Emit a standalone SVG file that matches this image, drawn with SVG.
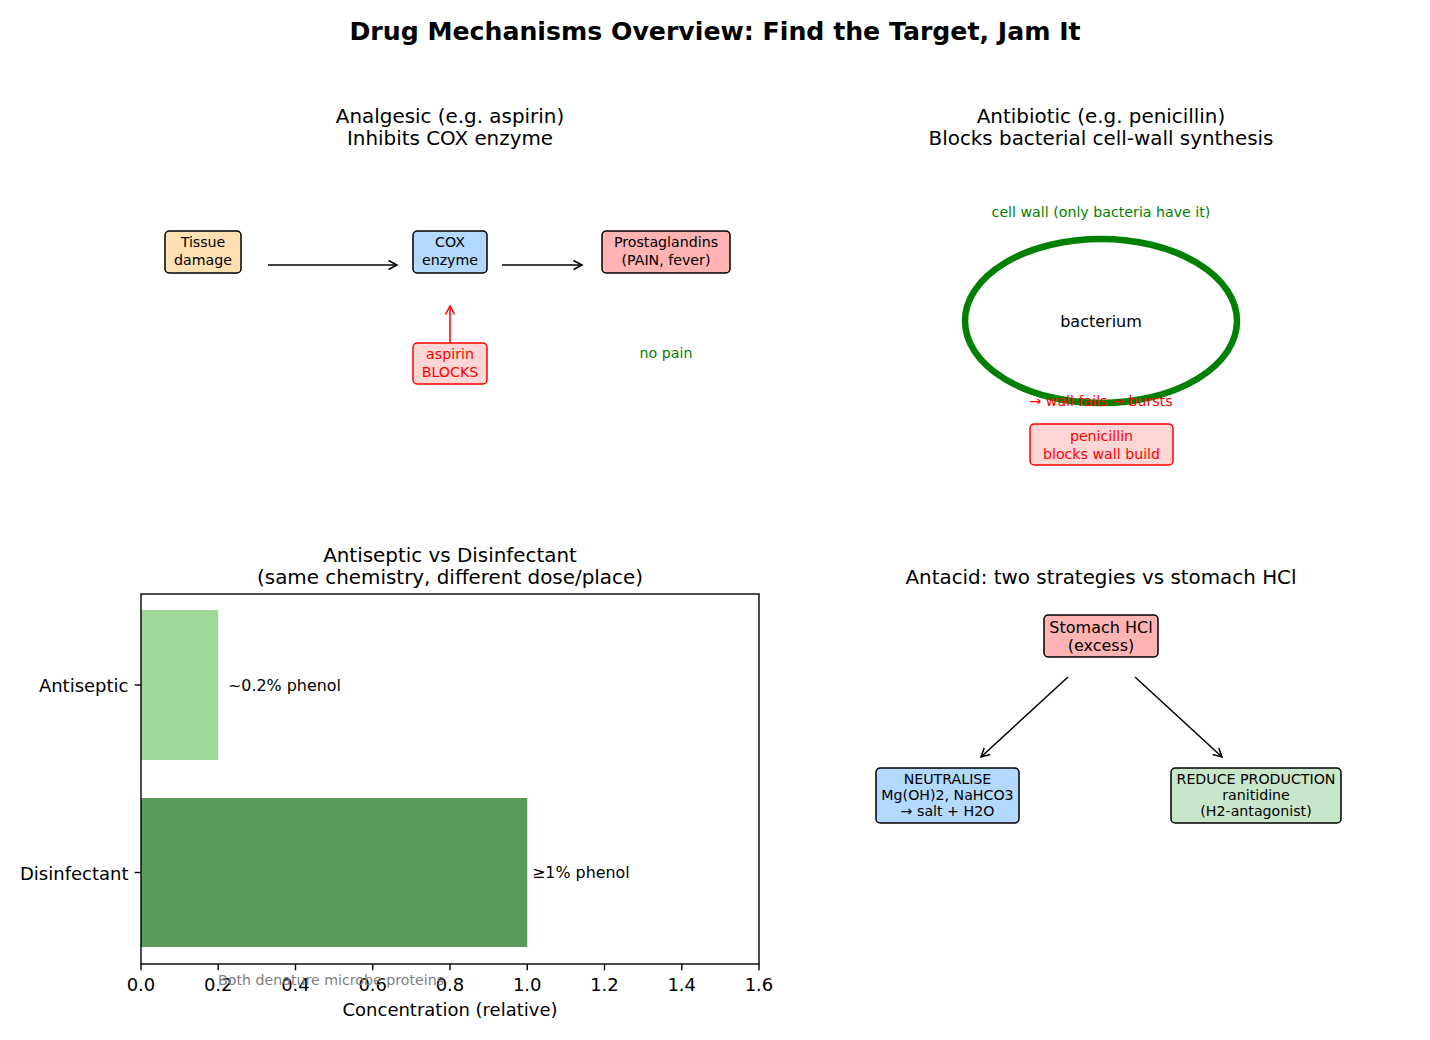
<svg xmlns="http://www.w3.org/2000/svg" width="1430" height="1040" viewBox="0 0 1430 1040">
<style>
text{font-family:"DejaVu Sans","Liberation Sans",sans-serif;fill:#000}
.title{font-size:25.2px;font-weight:bold}
.sub{font-size:19.9px}
.box{stroke:#000;stroke-width:1.5}
.bt{font-size:14.2px}
.st{font-size:14.2px}
.red{fill:#ff0000}
.green{fill:#008000}
.tick{font-size:18px}
.conn{stroke:#000;stroke-width:1.5;fill:none}
</style>
<defs>
<marker id="ah" markerUnits="userSpaceOnUse" markerWidth="14" markerHeight="14" viewBox="-11 -7 14 14" refX="0" refY="0" orient="auto">
<path d="M-8.5,-4.5 L0,0 L-8.5,4.5" fill="none" stroke="#000" stroke-width="1.5"/>
</marker>
<marker id="ahr" markerUnits="userSpaceOnUse" markerWidth="14" markerHeight="14" viewBox="-11 -7 14 14" refX="0" refY="0" orient="auto">
<path d="M-8.5,-4.5 L0,0 L-8.5,4.5" fill="none" stroke="#ff0000" stroke-width="1.5"/>
</marker>
</defs>
<rect width="1430" height="1040" fill="#fff"/>
<text class="title" x="715" y="40" text-anchor="middle">Drug Mechanisms Overview: Find the Target, Jam It</text>

<!-- Panel titles -->
<g id="titles" text-anchor="middle">
<text class="sub" x="450" y="123">Analgesic (e.g. aspirin)</text>
<text class="sub" x="450" y="145">Inhibits COX enzyme</text>
<text class="sub" x="1101" y="123">Antibiotic (e.g. penicillin)</text>
<text class="sub" x="1101" y="145">Blocks bacterial cell-wall synthesis</text>
<text class="sub" x="450" y="562">Antiseptic vs Disinfectant</text>
<text class="sub" x="450" y="584">(same chemistry, different dose/place)</text>
<text class="sub" x="1101" y="584">Antacid: two strategies vs stomach HCl</text>
</g>

<!-- Connectors -->
<g id="connectors">
<line class="conn" x1="268" y1="265" x2="397" y2="265" marker-end="url(#ah)"/>
<line class="conn" x1="502" y1="265" x2="582" y2="265" marker-end="url(#ah)"/>
<line x1="450" y1="343" x2="450" y2="306" stroke="#ff0000" stroke-width="1.5" marker-end="url(#ahr)"/>
<line class="conn" x1="1068" y1="677" x2="981" y2="757" marker-end="url(#ah)"/>
<line class="conn" x1="1135" y1="677" x2="1222" y2="757" marker-end="url(#ah)"/>
</g>

<!-- Analgesic nodes -->
<g id="tissue">
<rect class="box" x="165" y="231" width="76" height="42" rx="4.3" fill="#ffe0b2"/>
<text class="bt" x="203" y="247" text-anchor="middle">Tissue</text>
<text class="bt" x="203" y="265" text-anchor="middle">damage</text>
</g>
<g id="cox">
<rect class="box" x="413" y="231" width="74" height="42" rx="4.3" fill="#b3d9ff"/>
<text class="bt" x="450" y="247" text-anchor="middle">COX</text>
<text class="bt" x="450" y="265" text-anchor="middle">enzyme</text>
</g>
<g id="prostaglandins">
<rect class="box" x="602" y="231" width="128" height="42" rx="4.3" fill="#ffb3b3"/>
<text class="bt" x="666" y="247" text-anchor="middle">Prostaglandins</text>
<text class="bt" x="666" y="265" text-anchor="middle">(PAIN, fever)</text>
</g>
<g id="aspirin">
<rect x="413" y="343" width="74" height="41" rx="4.3" fill="#ffd6d6" stroke="#ff0000" stroke-width="1.5"/>
<text class="bt red" x="450" y="359" text-anchor="middle">aspirin</text>
<text class="bt red" x="450" y="377" text-anchor="middle">BLOCKS</text>
</g>
<g id="nopain">
<text class="bt green" x="666" y="358" text-anchor="middle">no pain</text>
</g>

<!-- Antibiotic -->
<g id="bacterium">
<text class="bt green" x="1101" y="217" text-anchor="middle">cell wall (only bacteria have it)</text>
<ellipse cx="1101" cy="321" rx="136" ry="82" fill="none" stroke="#008000" stroke-width="6.5"/>
<text x="1101" y="327" text-anchor="middle" font-size="16px">bacterium</text>
<text class="bt red" x="1101" y="406" text-anchor="middle">→ wall fails → bursts</text>
</g>
<g id="penicillin">
<rect x="1030" y="424" width="143" height="41" rx="4.3" fill="#ffd6d6" stroke="#ff0000" stroke-width="1.5"/>
<text class="bt red" x="1101.5" y="441" text-anchor="middle">penicillin</text>
<text class="bt red" x="1101.5" y="459" text-anchor="middle">blocks wall build</text>
</g>

<!-- Bar chart -->
<g id="barchart">
<rect x="141" y="610" width="77.25" height="150" fill="#a1d99b"/>
<rect x="141" y="798" width="386.25" height="149" fill="#5a9b5a"/>
<rect x="141" y="594" width="618" height="370" fill="none" stroke="#000" stroke-width="1.4"/>
<g stroke="#000" stroke-width="1.4">
<line x1="134.7" y1="685" x2="141" y2="685"/>
<line x1="134.7" y1="872.5" x2="141" y2="872.5"/>
<line x1="141" y1="964" x2="141" y2="970.3"/>
<line x1="218.25" y1="964" x2="218.25" y2="970.3"/>
<line x1="295.5" y1="964" x2="295.5" y2="970.3"/>
<line x1="372.75" y1="964" x2="372.75" y2="970.3"/>
<line x1="450" y1="964" x2="450" y2="970.3"/>
<line x1="527.25" y1="964" x2="527.25" y2="970.3"/>
<line x1="604.5" y1="964" x2="604.5" y2="970.3"/>
<line x1="681.75" y1="964" x2="681.75" y2="970.3"/>
<line x1="759" y1="964" x2="759" y2="970.3"/>
</g>
<text class="tick" x="128.5" y="692" text-anchor="end">Antiseptic</text>
<text class="tick" x="128.5" y="880" text-anchor="end">Disinfectant</text>
<g text-anchor="middle">
<text class="tick" x="141" y="991">0.0</text>
<text class="tick" x="218.25" y="991">0.2</text>
<text class="tick" x="295.5" y="991">0.4</text>
<text class="tick" x="372.75" y="991">0.6</text>
<text class="tick" x="450" y="991">0.8</text>
<text class="tick" x="527.25" y="991">1.0</text>
<text class="tick" x="604.5" y="991">1.2</text>
<text class="tick" x="681.75" y="991">1.4</text>
<text class="tick" x="759" y="991">1.6</text>
</g>
<text class="tick" x="450" y="1016" text-anchor="middle">Concentration (relative)</text>
<text x="228" y="691" font-size="15.9px">~0.2% phenol</text>
<text x="532" y="878" font-size="15.9px">≥1% phenol</text>
<text x="218" y="985" font-size="14.2px" style="fill:#808080">Both denature microbe proteins</text>
</g>

<!-- Antacid -->
<g id="stomach">
<rect class="box" x="1044" y="615" width="114" height="42" rx="4.3" fill="#ffb3b3"/>
<text x="1101" y="633" text-anchor="middle" font-size="16px">Stomach HCl</text>
<text x="1101" y="651" text-anchor="middle" font-size="16px">(excess)</text>
</g>
<g id="neutralise">
<rect class="box" x="876" y="768" width="143" height="55" rx="4.3" fill="#b3d9ff"/>
<text class="st" x="947.5" y="784" text-anchor="middle">NEUTRALISE</text>
<text class="st" x="947.5" y="800" text-anchor="middle">Mg(OH)2, NaHCO3</text>
<text class="st" x="947.5" y="816" text-anchor="middle">→ salt + H2O</text>
</g>
<g id="reduce">
<rect class="box" x="1171" y="768" width="170" height="55" rx="4.3" fill="#c8e6c9"/>
<text class="st" x="1256" y="784" text-anchor="middle">REDUCE PRODUCTION</text>
<text class="st" x="1256" y="800" text-anchor="middle">ranitidine</text>
<text class="st" x="1256" y="816" text-anchor="middle">(H2-antagonist)</text>
</g>
</svg>
